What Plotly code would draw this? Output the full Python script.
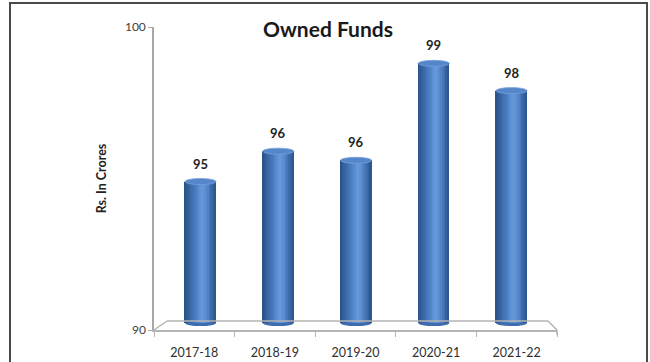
import plotly.graph_objects as go

# Owned funds of the company, Rs. in crores
years = ["2017-18", "2018-19", "2019-20", "2020-21", "2021-22"]
owned_funds = [94.9, 95.9, 95.6, 98.8, 97.9]
y_ticks = [90, 100]

AXIS_MIN, AXIS_MAX = 90, 100
BASE = 90.23      # cylinders stand a little in front of the axis baseline (3-D floor)
BAR_W = 0.4       # cylinder width in category units
CAP = 0.1         # half-height of the elliptical caps, in axis units
N_SLICES = 18     # vertical strips used to shade each cylinder

FONT = "Lato"
WIDTH, HEIGHT = 650, 362
M_L, M_R, M_T, M_B = 154, 93, 27, 32
PLOT_W = WIDTH - M_L - M_R
PLOT_H = HEIGHT - M_T - M_B

# left-to-right shading of a cylinder
shade_stops = [
    (0.00, (40, 78, 132)),
    (0.15, (54, 99, 160)),
    (0.35, (72, 124, 192)),
    (0.57, (104, 155, 222)),
    (0.72, (86, 136, 205)),
    (0.88, (58, 104, 168)),
    (1.00, (42, 82, 138)),
]


def shade(f):
    for (f0, c0), (f1, c1) in zip(shade_stops, shade_stops[1:]):
        if f0 <= f <= f1:
            t = (f - f0) / (f1 - f0)
            r, g, b = (round(a + (b_ - a) * t) for a, b_ in zip(c0, c1))
            return f"rgb({r},{g},{b})"
    return "rgb(42,82,138)"


def px_x(px):
    return (px - M_L) / PLOT_W


def px_y(py):
    return (M_T + PLOT_H - py) / PLOT_H


fig = go.Figure()

# cylinders: the category axis "x" is set in perspective, slightly narrower than the floor
heights = [v - BASE for v in owned_funds]
for k in range(N_SLICES):
    fig.add_trace(go.Bar(
        x=years,
        y=heights,
        base=BASE,
        width=BAR_W / N_SLICES * 1.08,
        offset=-BAR_W / 2 + k * BAR_W / N_SLICES,
        marker=dict(color=shade((k + 0.5) / N_SLICES), line=dict(width=0)),
        customdata=owned_funds,
        hovertemplate="%{x}: %{customdata}<extra></extra>",
        hoverinfo=None if k == N_SLICES // 2 else "skip",
        showlegend=False,
    ))

# the front (floor) category axis carrying the year labels
fig.add_trace(go.Scatter(
    x=years, y=owned_funds, xaxis="x2", yaxis="y", mode="markers",
    marker=dict(opacity=0), hoverinfo="skip", showlegend=False,
))

shapes = []
annotations = []
for i, v in enumerate(owned_funds):
    # bottom cap (behind the body) and top cap of each cylinder
    shapes.append(dict(type="circle", xref="x", yref="y", layer="below",
                       x0=i - BAR_W / 2, x1=i + BAR_W / 2, y0=BASE - CAP, y1=BASE + CAP,
                       fillcolor="rgb(62,108,172)", line=dict(width=0)))
    shapes.append(dict(type="circle", xref="x", yref="y",
                       x0=i - BAR_W / 2, x1=i + BAR_W / 2, y0=v - CAP, y1=v + CAP,
                       fillcolor="rgb(86,134,202)", line=dict(color="rgb(118,160,222)", width=0.8)))
    annotations.append(dict(x=i, y=v, xref="x", yref="y", yshift=18, yanchor="middle",
                            text=f"{v:.0f}", showarrow=False,
                            font=dict(family=FONT, size=13, color="#222222", weight="bold")))

# 3-D floor outline
floor_col = "#b4b4b4"
floor = [((154, 330), (167, 321)), ((167, 321), (548, 321)),
         ((548, 321), (557, 330)), ((557, 330), (557, 335))]
for (xa, ya), (xb, yb) in floor:
    shapes.append(dict(type="line", xref="paper", yref="paper",
                       x0=px_x(xa), y0=px_y(ya), x1=px_x(xb), y1=px_y(yb),
                       line=dict(color=floor_col, width=1.5)))

# frame around the chart
shapes.append(dict(type="rect", xref="paper", yref="paper",
                   x0=px_x(10), y0=px_y(366), x1=px_x(647), y1=px_y(3),
                   line=dict(color="#4a4a4a", width=2), fillcolor="rgba(0,0,0,0)"))

fig.update_layout(
    width=WIDTH, height=HEIGHT,
    margin=dict(l=M_L, r=M_R, t=M_T, b=M_B, autoexpand=False),
    paper_bgcolor="white", plot_bgcolor="white",
    barmode="overlay", bargap=0,
    font=dict(family=FONT, color="#333333"),
    title=dict(text="<b>Owned Funds</b>", x=328 / WIDTH, xanchor="center",
               y=1 - 30 / HEIGHT, yanchor="middle", yref="container", automargin=False,
               font=dict(family=FONT, size=21, color="#1a1a1a")),
    xaxis=dict(type="category", categoryorder="array", categoryarray=years,
               range=[-0.598, 4.585], visible=False, fixedrange=True, automargin=False),
    xaxis2=dict(type="category", categoryorder="array", categoryarray=years,
                overlaying="x", anchor="y", side="bottom", range=[-0.5, 4.5],
                tickmode="array", tickvals=years, ticktext=years, automargin=False,
                showline=True, linecolor=floor_col, linewidth=1.5,
                ticks="outside", tickson="boundaries", ticklen=5, tickcolor=floor_col,
                ticklabelstandoff=10, showgrid=False, zeroline=False,
                tickfont=dict(family=FONT, size=12.5, color="#2e2e2e")),
    yaxis=dict(range=[AXIS_MIN, AXIS_MAX], tickmode="array", tickvals=y_ticks,
               ticktext=[str(t) for t in y_ticks], automargin=False,
               showline=True, linecolor="#a8a8a8", linewidth=1.5,
               ticks="outside", ticklen=4, tickcolor="#a8a8a8",
               showgrid=False, zeroline=False,
               tickfont=dict(family=FONT, size=12, color="#404040"),
               title=dict(text="<b>Rs. In Crores</b>", standoff=16,
                          font=dict(family=FONT, size=12.5, color="#222222"))),
    shapes=shapes,
    annotations=annotations,
)

fig.write_html("out.html")
